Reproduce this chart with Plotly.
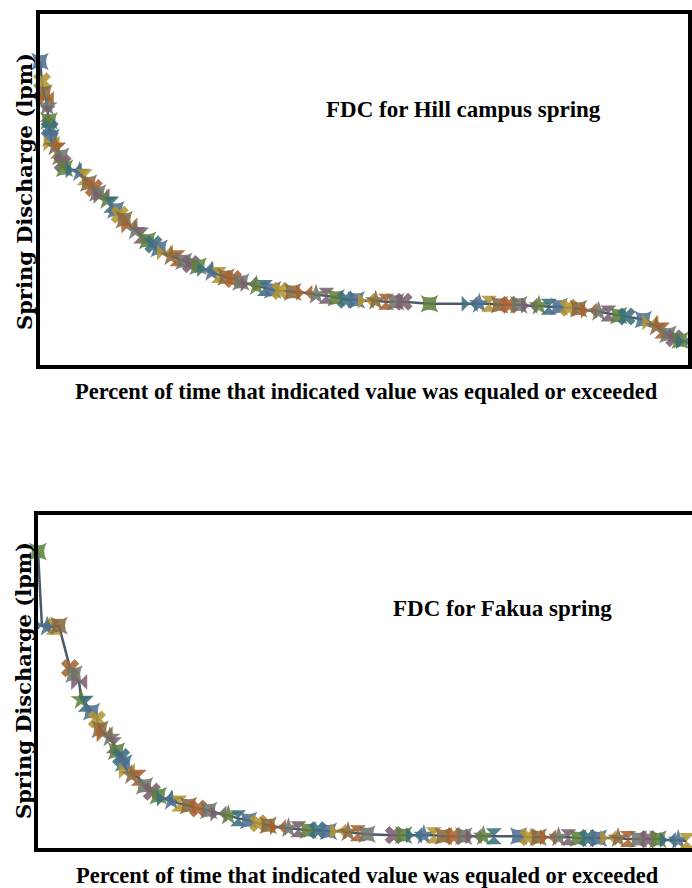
import plotly.graph_objects as go

# ---------------- data ----------------
# Hill campus spring: percent of time exceeded, discharge (lpm)
hill_pct = [0, 0.3, 0.6, 0.9, 1.1, 1.2, 1.4, 1.5, 1.7, 1.8, 2.3, 2.8, 3.2, 3.5, 3.8,
            5.2, 6.1, 6.9, 7.5, 8.3, 8.9, 9.5, 10.3, 11.0, 11.7, 12.3, 13.0, 13.8,
            14.7, 15.6, 16.6, 17.5, 18.4, 19.3, 20.2, 21.2, 22.2, 23.3, 24.4, 25.5,
            26.5, 27.6, 28.7, 29.8, 31.0, 32.2, 33.4, 34.7, 35.9, 37.1, 39.0, 40.8,
            42.6, 44.2, 45.7, 47.2, 48.8, 50.3, 51.8, 53.4, 54.9, 56.1, 60.1, 66.3,
            67.8, 69.3, 70.9, 72.4, 73.9, 75.5, 77.0, 78.5, 80.1, 81.6, 83.1, 84.7,
            86.2, 87.7, 89.3, 90.5, 93.1, 94.2, 95.1, 96.0, 96.9, 97.9, 98.8, 99.4]
hill_q = [30.7, 28.7, 27.5, 26.9, 26.2, 25.4, 24.7, 23.9, 23.0, 22.4, 22.1, 21.7, 21.1, 20.4, 19.9,
          19.7, 19.5, 19.0, 18.4, 17.9, 17.4, 17.1, 16.7, 16.2, 15.7, 15.2, 14.7, 14.1,
          13.6, 13.1, 12.6, 12.2, 11.8, 11.4, 11.0, 10.8, 10.5, 10.2, 10.0, 9.7,
          9.4, 9.1, 8.9, 8.7, 8.4, 8.2, 8.0, 7.8, 7.6, 7.5, 7.4, 7.3,
          7.1, 7.0, 6.8, 6.6, 6.6, 6.5, 6.5, 6.4, 6.4, 6.4, 6.2, 6.2,
          6.2, 6.2, 6.1, 6.1, 6.1, 6.0, 6.0, 5.9, 5.9, 5.8, 5.7, 5.5,
          5.4, 5.2, 5.0, 4.9, 4.6, 4.3, 3.9, 3.5, 3.1, 2.7, 2.5, 2.4]

# Fakua spring
fakua_pct = [0, 0.6, 1.4, 2.4, 3.2, 4.9, 5.5, 6.3, 6.6, 7.3, 8.2, 9.0, 9.5, 10.2, 11.0,
             11.6, 12.0, 12.7, 13.1, 13.6, 14.3, 15.4, 16.3, 17.4, 18.4, 19.4, 20.4,
             21.6, 23.0, 24.5, 26.1, 27.6, 29.1, 30.6, 32.2, 33.7, 35.2, 36.7, 38.3,
             39.8, 41.3, 42.8, 44.4, 45.9, 47.4, 48.9, 50.3, 54.4, 55.9, 57.5, 59.0,
             60.5, 62.0, 63.6, 65.1, 66.6, 68.1, 69.7, 73.5, 75.0, 76.5, 78.0, 79.6,
             81.1, 82.6, 84.1, 85.7, 87.2, 88.7, 90.2, 91.8, 93.3, 94.8, 96.3, 97.9, 99.2]
fakua_q = [30.0, 22.5, 22.4, 22.4, 22.5, 18.2, 17.6, 16.8, 15.0, 14.6, 13.8, 13.0, 12.0, 11.5, 11.2,
           10.4, 9.8, 9.2, 8.6, 7.8, 7.4, 7.1, 6.3, 5.7, 5.3, 5.0, 4.8,
           4.5, 4.3, 4.0, 3.8, 3.5, 3.3, 3.0, 2.8, 2.5, 2.3, 2.1, 2.0,
           1.9, 1.8, 1.8, 1.7, 1.7, 1.6, 1.5, 1.4, 1.3, 1.3, 1.3, 1.3,
           1.3, 1.2, 1.2, 1.2, 1.2, 1.2, 1.2, 1.2, 1.1, 1.1, 1.1, 1.1,
           1.1, 1.0, 1.0, 1.0, 1.0, 1.0, 0.9, 0.9, 0.9, 0.9, 0.8, 0.8, 0.7]

titles = ["FDC for Hill campus spring", "FDC for Fakua spring"]
x_label = "Percent of time that indicated value was equaled or exceeded"
y_label = "Spring Discharge (lpm)"

# ---------------- styles ----------------
palette = ["#4E6E8E", "#A8622E", "#5E803C", "#B39532", "#707468", "#3A6E7C", "#86683F", "#7A5F70"]
symbols = ["star-square", "x", "star-square", "bowtie", "star", "hourglass"]
serif = "Liberation Serif, Times New Roman, serif"


def marker_style(n, shift):
    return dict(
        size=16,
        color=[palette[(i * 3 + shift) % len(palette)] for i in range(n)],
        symbol=[symbols[(i + shift) % len(symbols)] for i in range(n)],
        opacity=0.88,
        line=dict(width=0),
    )


fig = go.Figure()
fig.add_trace(go.Scatter(
    x=hill_pct, y=hill_q, mode="lines+markers", cliponaxis=False,
    line=dict(color="#4A5A6A", width=2.5),
    marker=marker_style(len(hill_pct), 0),
    xaxis="x", yaxis="y", showlegend=False))
fig.add_trace(go.Scatter(
    x=fakua_pct, y=fakua_q, mode="lines+markers", cliponaxis=False,
    line=dict(color="#4A5A6A", width=2.5),
    marker=marker_style(len(fakua_pct), 2),
    xaxis="x2", yaxis="y2", showlegend=False))

W, H = 692, 888
ax_common = dict(showticklabels=False, ticks="", showgrid=False, zeroline=False,
                 showline=True, linecolor="black", linewidth=4)

fig.update_layout(
    width=W, height=H, autosize=False,
    margin=dict(l=0, r=0, t=0, b=0),
    paper_bgcolor="white", plot_bgcolor="white",
    xaxis=dict(domain=[40 / W, 688 / W], range=[0, 100], anchor="y", mirror=True, **ax_common),
    yaxis=dict(domain=[1 - 365 / H, 1 - 14 / H], range=[0, 35.5], anchor="x", mirror=True, **ax_common),
    xaxis2=dict(domain=[38 / W, 1.0], range=[0, 100], anchor="y2", mirror=True, **ax_common),
    yaxis2=dict(domain=[1 - 848 / H, 1 - 515 / H], range=[0, 33.7], anchor="x2", mirror=False, **ax_common),
)

annos = [
    dict(text="<b>" + titles[0] + "</b>", x=463 / W, y=1 - 110 / H,
         font=dict(family=serif, size=23, color="black")),
    dict(text="<b>" + titles[1] + "</b>", x=502 / W, y=1 - 608 / H,
         font=dict(family=serif, size=23, color="black")),
    dict(text="<b>" + x_label + "</b>", x=366 / W, y=1 - 392 / H,
         font=dict(family=serif, size=22.5, color="black")),
    dict(text="<b>" + x_label + "</b>", x=368 / W, y=1 - 875 / H,
         font=dict(family=serif, size=22.5, color="black")),
    dict(text="<b>" + y_label + "</b>", x=24 / W, y=1 - 192 / H, textangle=-90,
         font=dict(family="DejaVu Serif, serif", size=21, color="black")),
    dict(text="<b>" + y_label + "</b>", x=23 / W, y=1 - 681 / H, textangle=-90,
         font=dict(family="DejaVu Serif, serif", size=21, color="black")),
]
for a in annos:
    fig.add_annotation(xref="paper", yref="paper", showarrow=False,
                       xanchor="center", yanchor="middle", **a)

fig.write_html("out.html")
